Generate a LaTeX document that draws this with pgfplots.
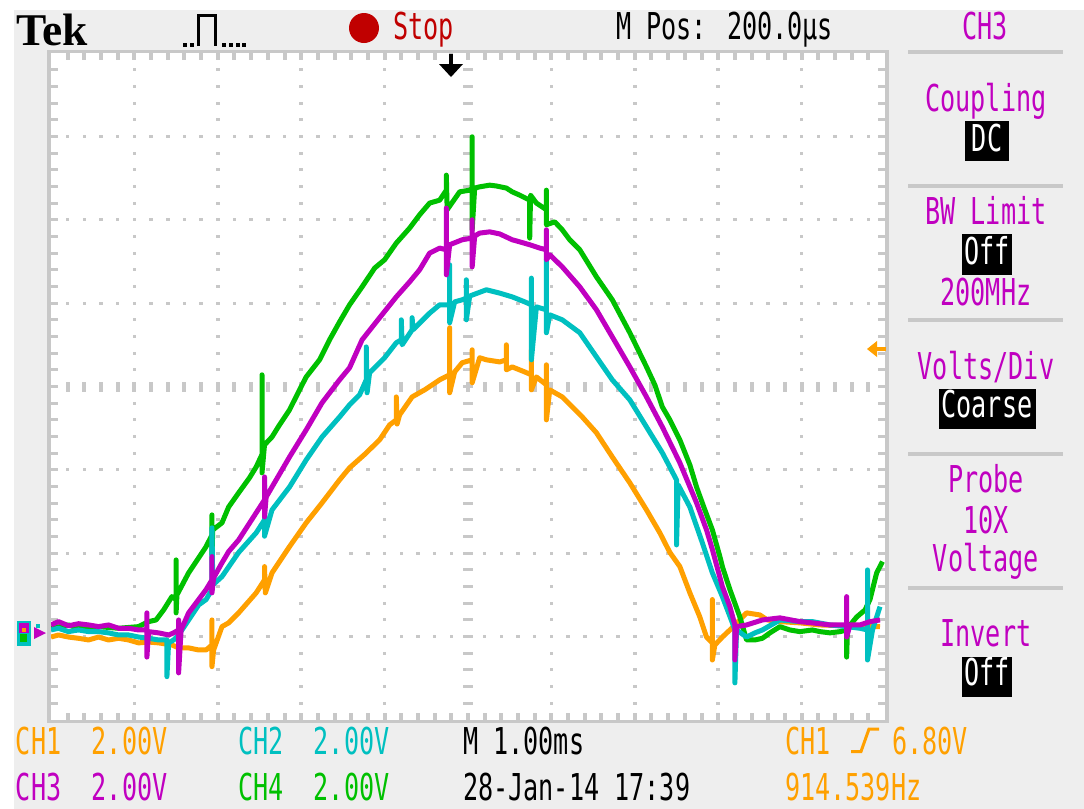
\documentclass[border=0pt]{standalone}
\usepackage{pgfplots}
\pgfplotsset{compat=1.18}
\usepackage{fontspec}
\newfontfamily\scopefont{DejaVu Sans Mono}[FakeStretch=0.68]
\newfontfamily\tekfont{Liberation Serif}

\definecolor{chone}{RGB}{255,160,0}
\definecolor{chtwo}{RGB}{0,192,192}
\definecolor{chthree}{RGB}{192,0,192}
\definecolor{chfour}{RGB}{0,192,0}
\definecolor{stopred}{RGB}{192,0,0}
\definecolor{panel}{RGB}{238,238,238}
\definecolor{grat}{RGB}{200,200,200}

\tikzset{
  st/.style={inner sep=0pt, outer sep=0pt, font=\scopefont\fontsize{18.5pt}{20pt}\selectfont},
}

\begin{document}
\begin{tikzpicture}
\useasboundingbox (0,0) rectangle (542pt,-404.5pt);
% screen coordinates: one unit = one screen pixel, y downwards
\begin{scope}[x=0.5pt,y=-0.5pt]
  \fill[white] (0,0) rectangle (1084,809);
  \fill[panel] (14,10) rectangle (1084,809);
  % graticule
  \fill[white] (49,51) rectangle (887,722);
  \draw[grat, line width=1.75pt] (49.2,51.6) rectangle (886.8,721.7);
  \foreach \i in {1,2,3,4,6,7,8,9}{
    \foreach \k in {1,...,39}{
      \fill[grat] ({51+\i*83.4-1.75},{53+\k*16.675-1.5}) rectangle ++(3.5,3);
    }
  }
  \foreach \j in {1,2,3,5,6,7}{
    \foreach \k in {1,...,49}{
      \fill[grat] ({51+\k*16.68-1.75},{53+\j*83.375-1.5}) rectangle ++(3.5,3);
    }
  }
  \foreach \k in {1,...,39}{
    \fill[grat] (463,{53+\k*16.675-1.5}) rectangle ++(10,3);
    \fill[grat] (51,{53+\k*16.675-1.5}) rectangle ++(7,3);
    \fill[grat] (878,{53+\k*16.675-1.5}) rectangle ++(7,3);
  }
  \foreach \k in {1,...,49}{
    \fill[grat] ({51+\k*16.68-2},381.5) rectangle ++(4,10);
    \fill[grat] ({51+\k*16.68-2},53) rectangle ++(4,7);
    \fill[grat] ({51+\k*16.68-2},713) rectangle ++(4,7);
  }
  % menu separators
  \foreach \yy in {50,184,318,452,586}{
    \fill[grat] (908,\yy) rectangle (1063,\yy+3.7);
  }
\end{scope}

\begin{axis}[at={(25.5pt,-360pt)}, anchor=south west,
  width=417pt, height=333.5pt, scale only axis,
  xmin=-4.8, xmax=5.2, ymin=-2.1, ymax=13.9,
  hide axis, clip=true,
  every axis plot/.append style={line width=2.5pt, line join=round, mark=none}]
% CH1
\addplot[chone] coordinates {(-4.80,-0.11)(-4.71,-0.06)(-4.59,-0.11)(-4.47,-0.14)(-4.35,-0.18)(-4.23,-0.11)(-4.11,-0.18)(-3.99,-0.14)(-3.87,-0.18)(-3.75,-0.25)(-3.63,-0.23)(-3.51,-0.25)(-3.35,-0.30)(-3.27,-0.37)(-3.15,-0.37)(-3.03,-0.42)(-2.94,-0.42)(-2.87,-0.30)(-2.87,0.30)(-2.87,-0.82)(-2.85,-0.42)(-2.75,0.14)(-2.67,0.23)(-2.55,0.47)(-2.34,0.95)(-2.24,1.26)(-2.24,1.58)(-2.23,0.95)(-2.15,1.43)(-1.94,2.06)(-1.74,2.63)(-1.55,3.11)(-1.34,3.66)(-1.22,3.95)(-1.04,4.27)(-0.86,4.62)(-0.74,4.98)(-0.66,5.10)(-0.66,5.65)(-0.65,5.00)(-0.62,5.22)(-0.47,5.65)(-0.32,5.82)(-0.14,6.06)(-0.02,6.18)(-0.02,7.31)(-0.02,5.75)(0.04,6.25)(0.13,6.47)(0.25,6.54)(0.25,6.78)(0.25,5.99)(0.34,6.59)(0.42,6.54)(0.58,6.49)(0.66,6.54)(0.66,6.90)(0.66,6.30)(0.73,6.37)(0.88,6.25)(0.96,6.18)(0.96,6.78)(0.96,5.82)(1.02,6.13)(1.14,5.94)(1.14,6.42)(1.14,5.10)(1.18,5.82)(1.33,5.65)(1.57,5.17)(1.74,4.79)(1.93,4.21)(2.14,3.59)(2.34,2.94)(2.50,2.39)(2.62,1.92)(2.74,1.58)(2.86,0.95)(2.98,0.37)(3.06,-0.11)(3.13,-0.25)(3.13,0.79)(3.13,-0.66)(3.16,-0.30)(3.25,-0.11)(3.34,0.06)(3.54,0.47)(3.70,0.42)(3.79,0.30)(3.94,0.26)(4.18,0.23)(4.42,0.18)(4.74,0.16)(5.14,0.14)};
% CH4
\addplot[chfour] coordinates {(-4.80,0.10)(-4.59,0.18)(-4.47,0.10)(-4.23,0.14)(-3.99,0.10)(-3.75,0.14)(-3.63,0.26)(-3.54,0.30)(-3.45,0.54)(-3.35,0.86)(-3.30,0.79)(-3.30,1.74)(-3.30,0.47)(-3.29,0.90)(-3.15,1.43)(-2.94,2.06)(-2.87,2.34)(-2.87,2.82)(-2.87,1.86)(-2.86,2.46)(-2.75,2.63)(-2.67,3.01)(-2.55,3.35)(-2.42,3.71)(-2.34,3.97)(-2.27,4.27)(-2.27,6.18)(-2.27,3.83)(-2.24,4.50)(-2.15,4.69)(-2.06,4.98)(-1.94,5.34)(-1.82,5.82)(-1.74,6.13)(-1.58,6.54)(-1.46,7.02)(-1.34,7.45)(-1.22,7.86)(-1.07,8.29)(-0.92,8.74)(-0.80,8.94)(-0.66,9.34)(-0.50,9.70)(-0.38,10.02)(-0.26,10.30)(-0.14,10.37)(-0.06,10.61)(-0.06,10.97)(-0.05,10.14)(0.10,10.57)(0.22,10.61)(0.25,10.66)(0.25,11.89)(0.25,9.66)(0.28,10.66)(0.34,10.69)(0.46,10.73)(0.54,10.71)(0.66,10.66)(0.73,10.57)(0.82,10.49)(0.94,10.37)(0.94,9.46)(0.95,10.49)(1.02,10.30)(1.14,10.14)(1.14,10.61)(1.14,9.78)(1.24,9.85)(1.33,9.66)(1.42,9.42)(1.54,9.18)(1.74,8.53)(1.93,7.98)(2.14,7.19)(2.34,6.37)(2.44,5.94)(2.53,5.41)(2.62,5.10)(2.74,4.62)(2.86,4.02)(2.94,3.49)(3.04,2.94)(3.13,2.46)(3.22,1.82)(3.25,1.58)(3.34,1.03)(3.46,0.37)(3.54,-0.18)(3.64,-0.18)(3.73,-0.14)(3.82,-0.01)(3.94,0.14)(4.06,0.06)(4.18,0.02)(4.33,0.06)(4.42,0.02)(4.54,-0.01)(4.66,0.02)(4.74,0.06)(4.74,-0.59)(4.75,0.10)(4.86,0.37)(4.96,0.54)(5.02,0.79)(5.10,1.43)(5.17,1.70)};
% CH2
\addplot[chtwo] coordinates {(-4.80,0.06)(-4.71,0.10)(-4.59,0.02)(-4.47,0.06)(-4.35,0.02)(-4.23,0.02)(-4.11,-0.01)(-3.99,-0.06)(-3.87,-0.06)(-3.75,-0.11)(-3.63,-0.14)(-3.51,-0.18)(-3.41,-0.18)(-3.41,-1.06)(-3.39,-0.25)(-3.33,-0.18)(-3.27,-0.06)(-3.15,0.30)(-3.03,0.66)(-2.94,0.79)(-2.87,1.03)(-2.87,2.51)(-2.86,1.14)(-2.75,1.34)(-2.55,1.92)(-2.34,2.39)(-2.24,2.70)(-2.24,3.54)(-2.24,2.31)(-2.15,2.94)(-1.94,3.49)(-1.74,4.14)(-1.55,4.69)(-1.34,5.17)(-1.22,5.46)(-1.10,5.70)(-1.02,6.06)(-1.02,6.85)(-1.01,5.75)(-0.98,6.23)(-0.80,6.59)(-0.66,6.95)(-0.60,7.02)(-0.60,7.50)(-0.59,6.90)(-0.47,7.26)(-0.47,7.55)(-0.46,7.26)(-0.26,7.66)(-0.14,7.86)(-0.02,7.86)(-0.02,8.82)(-0.02,7.43)(0.04,7.93)(0.13,7.98)(0.18,8.02)(0.18,8.46)(0.18,7.50)(0.22,8.07)(0.42,8.22)(0.58,8.14)(0.73,8.05)(0.88,7.93)(0.96,7.86)(0.96,8.50)(0.96,6.54)(1.02,7.81)(1.14,7.74)(1.14,8.94)(1.14,7.19)(1.18,7.62)(1.33,7.50)(1.54,7.19)(1.74,6.61)(1.93,6.06)(2.14,5.58)(2.34,4.93)(2.53,4.31)(2.70,3.66)(2.70,2.10)(2.72,3.54)(2.86,3.01)(3.01,2.15)(3.13,1.43)(3.25,0.86)(3.37,0.23)(3.40,0.06)(3.40,-1.21)(3.42,0.06)(3.54,-0.11)(3.64,-0.01)(3.73,0.06)(3.94,0.30)(4.18,0.26)(4.33,0.26)(4.54,0.18)(4.74,0.14)(4.90,0.10)(4.99,0.06)(4.99,1.50)(4.99,-0.66)(5.05,0.06)(5.14,0.62)};
% CH3
\addplot[chthree] coordinates {(-4.80,0.18)(-4.71,0.26)(-4.59,0.16)(-4.47,0.21)(-4.35,0.18)(-4.23,0.14)(-4.11,0.18)(-3.99,0.10)(-3.87,0.10)(-3.75,0.06)(-3.65,0.06)(-3.65,0.47)(-3.65,-0.59)(-3.63,0.02)(-3.51,-0.01)(-3.39,-0.06)(-3.33,-0.01)(-3.27,0.06)(-3.27,0.30)(-3.27,-0.97)(-3.24,0.06)(-3.15,0.47)(-3.03,0.79)(-2.94,1.03)(-2.87,1.26)(-2.87,1.82)(-2.87,0.95)(-2.85,1.31)(-2.75,1.67)(-2.67,1.94)(-2.55,2.22)(-2.34,2.87)(-2.24,3.18)(-2.24,3.73)(-2.24,2.77)(-2.22,3.25)(-2.15,3.49)(-1.94,4.21)(-1.74,4.86)(-1.55,5.51)(-1.34,6.06)(-1.22,6.35)(-1.07,7.02)(-0.86,7.55)(-0.66,8.05)(-0.50,8.41)(-0.38,8.70)(-0.26,9.10)(-0.14,9.22)(-0.06,9.18)(-0.06,10.18)(-0.06,8.58)(-0.02,9.30)(0.13,9.42)(0.25,9.46)(0.25,9.90)(0.25,8.77)(0.28,9.51)(0.34,9.58)(0.46,9.61)(0.58,9.56)(0.73,9.42)(0.82,9.37)(0.94,9.30)(1.06,9.22)(1.14,9.18)(1.14,9.66)(1.14,8.94)(1.18,9.06)(1.33,8.77)(1.54,8.29)(1.74,7.74)(1.93,7.09)(2.14,6.37)(2.34,5.65)(2.53,4.93)(2.74,4.07)(2.94,3.11)(3.06,2.46)(3.13,1.99)(3.25,1.10)(3.34,0.62)(3.40,0.18)(3.40,-0.66)(3.42,0.14)(3.54,0.18)(3.73,0.30)(3.94,0.35)(4.18,0.26)(4.33,0.23)(4.54,0.18)(4.74,0.18)(4.74,0.86)(4.74,-0.11)(4.78,0.18)(4.90,0.18)(5.02,0.26)(5.14,0.30)};
\end{axis}

\begin{scope}[x=0.5pt,y=-0.5pt]
  % trigger position and level markers
  \fill[black] (449,54) rectangle (453,66);
  \fill[black] (439,64) -- (463,64) -- (451,77) -- cycle;
  \fill[chone] (867,349) -- (877,341) -- (877,357) -- cycle;
  \fill[chone] (876,347) rectangle (886,351);
  % channel ground markers
  \fill[chtwo] (17,621) rectangle (31,646);
  \fill[chthree] (19,623) rectangle (29,633);
  \fill[chfour] (20,634) rectangle (27,642);
  \fill[chone] (22,628) rectangle (26,632);
  \fill[chthree] (34,627) -- (46,633) -- (34,639) -- cycle;
  \fill[chtwo] (36,624) rectangle (40,628);
  % header
  \node[anchor=base west, inner sep=0pt, font=\tekfont\bfseries\fontsize{22.7pt}{24pt}\selectfont] at (16,45) {Tek};
  \draw[black, line width=1.5pt] (198,46) -- (198,15) -- (215,15) -- (215,46);
  \foreach \dx in {183,190}{\fill[black] (\dx,43) rectangle ++(3.5,3.5);}
  \foreach \dx in {222,229,236,242}{\fill[black] (\dx,43) rectangle ++(3.5,3.5);}
  \fill[stopred] (364,28) circle (15);
  \node[st, anchor=base west, text=stopred] at (393,39) {Stop};
  \node[st, anchor=base west, text=black] at (616,39) {M Pos: 200.0µs};
  \node[st, anchor=base, text=chthree] at (985,39) {CH3};
  % side menu
  \fill[black] (965,121) rectangle (1009,161);
  \fill[black] (962,234) rectangle (1012,275);
  \fill[black] (939,389) rectangle (1036,429);
  \fill[black] (962,657) rectangle (1012,697);
  \node[st, anchor=base, text=chthree] at (986,111) {Coupling};
  \node[st, anchor=base, text=white] at (987,151) {DC};
  \node[st, anchor=base, text=chthree] at (986,224) {BW Limit};
  \node[st, anchor=base, text=white] at (987,264) {Off};
  \node[st, anchor=base, text=chthree] at (986,305) {200MHz};
  \node[st, anchor=base, text=chthree] at (986,379) {Volts/Div};
  \node[st, anchor=base, text=white] at (987,417) {Coarse};
  \node[st, anchor=base, text=chthree] at (986,492) {Probe};
  \node[st, anchor=base, text=chthree] at (986,533) {10X};
  \node[st, anchor=base, text=chthree] at (986,571) {Voltage};
  \node[st, anchor=base, text=chthree] at (986,646) {Invert};
  \node[st, anchor=base, text=white] at (987,685) {Off};
  % status lines
  \node[st, anchor=base west, text=chone] at (16,754) {CH1~~2.00V};
  \node[st, anchor=base west, text=chtwo] at (238,754) {CH2~~2.00V};
  \node[st, anchor=base west, text=black] at (463,754) {M 1.00ms};
  \node[st, anchor=base west, text=chone] at (785,754) {CH1};
  \draw[chone, line width=1.5pt] (851,751.5) -- (861,751.5) -- (869,729) -- (879,729);
  \node[st, anchor=base west, text=chone] at (892,754) {6.80V};
  \node[st, anchor=base west, text=chthree] at (16,800) {CH3~~2.00V};
  \node[st, anchor=base west, text=chfour] at (238,800) {CH4~~2.00V};
  \node[st, anchor=base west, text=black] at (463,800) {28-Jan-14 17:39};
  \node[st, anchor=base west, text=chone] at (785,800) {914.539Hz};
\end{scope}
\end{tikzpicture}
\end{document}
